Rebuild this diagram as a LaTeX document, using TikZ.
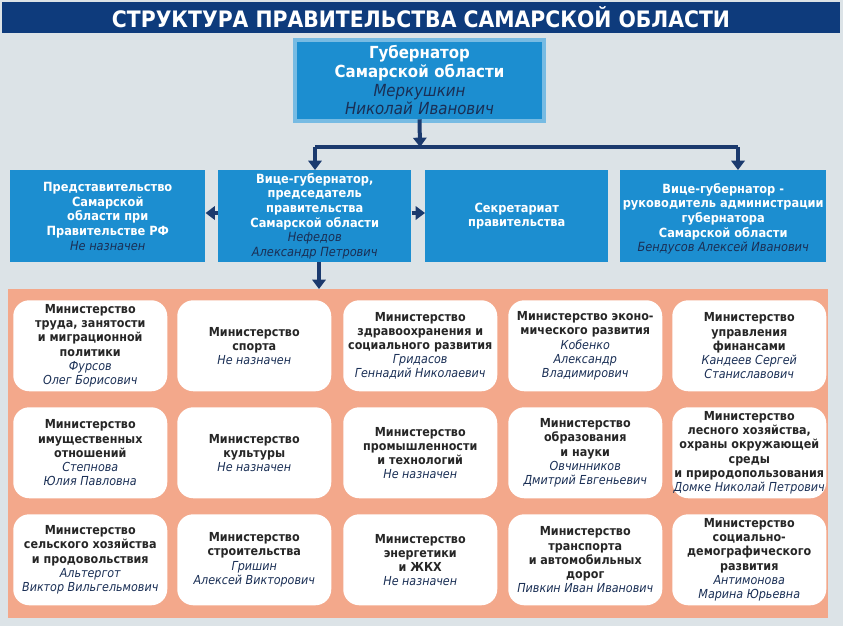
\documentclass[tikz,border=0pt]{standalone}
\usepackage{fontspec}
\setmainfont{DejaVu Sans Condensed}
\usetikzlibrary{arrows.meta}
\definecolor{navy}{HTML}{0E3B7C}
\definecolor{bg}{HTML}{DCE3E7}
\definecolor{bblue}{HTML}{1C8ED0}
\definecolor{salmon}{HTML}{F3A88B}
\definecolor{nm}{HTML}{1A2F55}
\definecolor{ln}{HTML}{1B3A6E}
\tikzset{
 topbox/.style={fill=bblue,text=white,font=\bfseries\fontsize{10}{11.5}\selectfont,align=center,anchor=north west,inner sep=0pt},
 card/.style={fill=white,rounded corners=12pt,anchor=north west,inner sep=0pt,align=center,text=black!85,font=\bfseries\fontsize{10}{11}\selectfont},
 con/.style={draw=ln,line width=3pt,-{Triangle[length=7pt,width=10pt]}},
}
\newcommand{\nmx}[1]{{\mdseries\itshape\color{nm}#1}}
\begin{document}
\begin{tikzpicture}[x=0.75pt,y=-0.75pt]
\fill[bg] (0,0) rectangle (843,626);
\useasboundingbox (0,0) rectangle (843,626);
\fill[navy] (2,2) rectangle (840,33);
\node[text=white,font=\bfseries\fontsize{17}{18}\selectfont] (title) at (421,17) {СТРУКТУРА ПРАВИТЕЛЬСТВА САМАРСКОЙ ОБЛАСТИ};
% governor
\fill[bblue!60!white] (293,38) rectangle (546,123);
\node[fill=bblue,minimum width=245\pgflinewidth,text width=240*0.75pt,minimum width=245*0.75pt,minimum height=77*0.75pt,inner sep=0pt,align=center,text=white,font=\bfseries\fontsize{12.5}{14}\selectfont] (gov) at (419.5,80.5) {Губернатор\\Самарской области\\\nmx{Меркушкин}\\\nmx{Николай Иванович}};
% row boxes
\node[topbox,minimum width=195*0.75pt,minimum height=92*0.75pt,text width=190*0.75pt] (b1) at (10,170) {};
\node[topbox,minimum width=193*0.75pt,minimum height=92*0.75pt] (b2) at (218,170) {};
\node[topbox,minimum width=183*0.75pt,minimum height=92*0.75pt] (b3) at (425,170) {};
\node[topbox,minimum width=206*0.75pt,minimum height=92*0.75pt] (b4) at (620,170) {};
\node[font=\bfseries\fontsize{9.5}{11}\selectfont,text=white,align=center] at (b1.center) {Представительство\\Самарской\\области при\\Правительстве РФ\\\nmx{Не назначен}};
\node[font=\bfseries\fontsize{9.5}{11}\selectfont,text=white,align=center] at (b2.center) {Вице-губернатор,\\председатель\\правительства\\Самарской области\\\nmx{Нефедов}\\\nmx{Александр Петрович}};
\node[font=\bfseries\fontsize{9.5}{11}\selectfont,text=white,align=center] at (b3.center) {Секретариат\\правительства};
\node[font=\bfseries\fontsize{9.5}{11}\selectfont,text=white,align=center] at ([yshift=-2pt]b4.center) {Вице-губернатор -\\руководитель администрации\\губернатора\\Самарской области\\\nmx{Бендусов Алексей Иванович}};
% connectors
\coordinate (j) at (420,147);
\coordinate (jl) at (315,147);
\coordinate (jr) at (738,147);
\draw[draw=ln,line width=3pt] (jl) -- (jr);
\draw[con] (gov.south) -- (j);
\draw[con] (jl) -- (jl|-b2.north);
\draw[con] (jr) -- (jr|-b4.north);
\draw[con] (b2.west|-0,213) -- (b1.east|-0,213);
\draw[con] (b2.east|-0,213) -- (b3.west|-0,213);
% panel
\node[fill=salmon,anchor=north west,minimum width=820*0.75pt,minimum height=329*0.75pt,inner sep=0pt] (panel) at (8,289) {};
\draw[con] (319,262) -- (panel.north-|319,0);
% cards
\def\cw{154*0.75pt}\def\ch{91*0.75pt}
\foreach \n/\x/\y/\t in {
c11/13/300/{Министерство\\труда, занятости\\и миграционной\\политики\\\nmx{Фурсов}\\\nmx{Олег Борисович}},
c12/177/300/{Министерство\\спорта\\\nmx{Не назначен}},
c13/343/300/{Министерство\\здравоохранения и\\социального развития\\\nmx{Гридасов}\\\nmx{Геннадий Николаевич}},
c14/508/300/{Министерство эконо-\\мического развития\\\nmx{Кобенко}\\\nmx{Александр}\\\nmx{Владимирович}},
c15/672/300/{Министерство\\управления\\финансами\\\nmx{Кандеев Сергей}\\\nmx{Станиславович}},
c21/13/407/{Министерство\\имущественных\\отношений\\\nmx{Степнова}\\\nmx{Юлия Павловна}},
c22/177/407/{Министерство\\культуры\\\nmx{Не назначен}},
c23/343/407/{Министерство\\промышленности\\и технологий\\\nmx{Не назначен}},
c24/508/407/{Министерство\\образования\\и науки\\\nmx{Овчинников}\\\nmx{Дмитрий Евгеньевич}},
c25/672/407/{Министерство\\лесного хозяйства,\\охраны окружающей\\среды\\и природопользования\\\nmx{Домке Николай Петрович}},
c31/13/514/{Министерство\\сельского хозяйства\\и продовольствия\\\nmx{Альтергот}\\\nmx{Виктор Вильгельмович}},
c32/177/514/{Министерство\\строительства\\\nmx{Гришин}\\\nmx{Алексей Викторович}},
c33/343/514/{Министерство\\энергетики\\и ЖКХ\\\nmx{Не назначен}},
c34/508/514/{Министерство\\транспорта\\и автомобильных\\дорог\\\nmx{Пивкин Иван Иванович}},
c35/672/514/{Министерство\\социально-\\демографического\\развития\\\nmx{Антимонова}\\\nmx{Марина Юрьевна}}}
{\node[card,minimum width=\cw,minimum height=\ch] (\n) at (\x,\y) {};
 \node[align=center,inner sep=0pt,font=\bfseries\fontsize{9.3}{10.6}\selectfont,text=black!85] at (\n.center) {\t};}
\end{tikzpicture}
\end{document}
